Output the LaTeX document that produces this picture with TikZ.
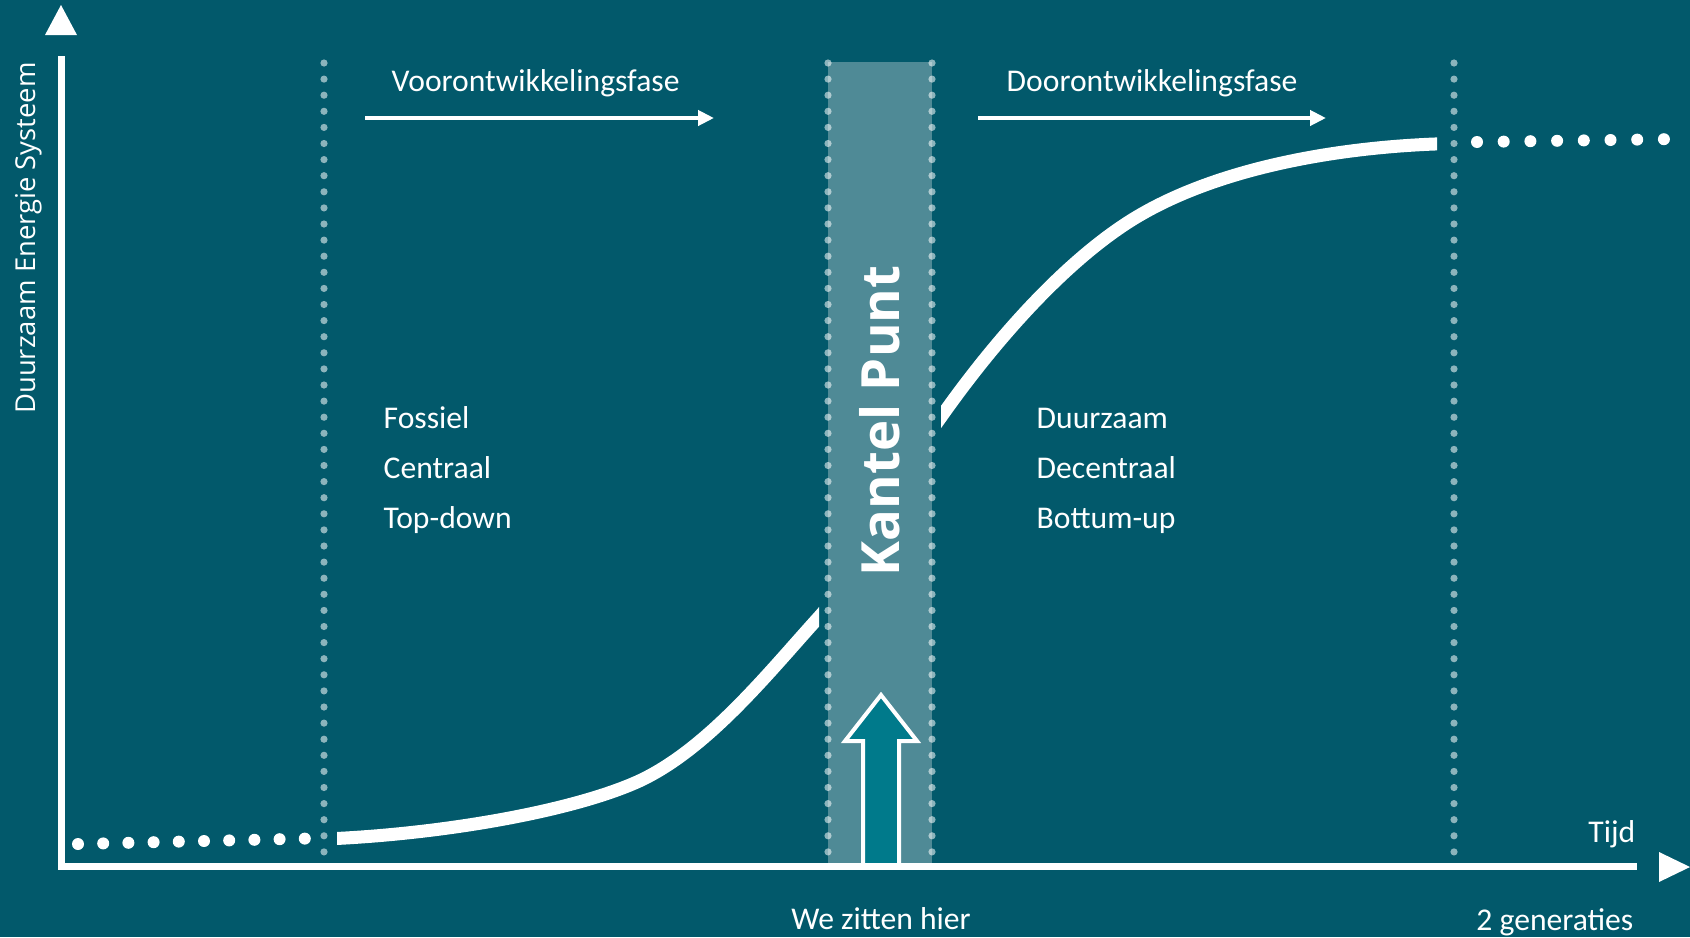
\documentclass[tikz,border=0pt]{standalone}
\usepackage{fontspec}
\setmainfont{Carlito}
\newfontfamily\axisfont{Open Sans}
\usetikzlibrary{arrows.meta}
\definecolor{bgteal}{HTML}{02596B}
\definecolor{bandteal}{HTML}{4F8A96}
\definecolor{arrowteal}{HTML}{007A8B}

\begin{document}
\begin{tikzpicture}[x=0.1mm, y=-0.1mm,
    lbl/.style={text=white, inner sep=0pt, font=\fontsize{9}{11}\selectfont},
    phase/.style={draw=white, line width=0.4mm, -{Triangle[length=1.6mm, width=1.5mm]}},
    stip/.style={fill=white, opacity=0.55}]
    \useasboundingbox (0,0) rectangle (1690,937);
    \fill[bgteal] (0,0) rectangle (1690,937);
    \fill[bandteal] (828,62) rectangle (932,866);
    \foreach \x in {324,828,932,1454}
        \foreach \k in {0,...,49}
            \fill[stip] (\x,63+16.1*\k) circle (0.36mm);
    \foreach \k in {0,...,9}
        \fill[white] (78+25.2*\k,844-0.6*\k) circle (0.6mm);
    \foreach \k in {0,...,7}
        \fill[white] (1477+26.7*\k,142-0.4*\k) circle (0.6mm);
    \begin{scope}
        \clip (337,0) rectangle (819,937) (941,0) rectangle (1437,937);
        \draw[white, line width=1.3mm, line cap=butt] (325,839)
            .. controls (435,834.6) and (567,813) .. (637,782)
            .. controls (707,750.5) and (769,672) .. (819,617)
            .. controls (859,573) and (901,471) .. (941,417)
            .. controls (1001,332) and (1067,262) .. (1127,223)
            .. controls (1207,171) and (1330,146.5) .. (1450,143.5);
    \end{scope}
    \filldraw[fill=arrowteal, draw=white, line width=0.4mm] (881,695) -- (917,741) -- (899,741) -- (899,866) -- (863,866) -- (863,741) -- (845,741) -- cycle;
    \coordinate (ytop) at (61,56);
    \coordinate (xend) at (1637,866.5);
    \draw[white, line width=0.7mm] (ytop) |- (xend);
    \fill[white] (61,5) -- (77,35) -- (45,35) -- cycle;
    \fill[white] (1690,867) -- (1659,852) -- (1659,882) -- cycle;
    \coordinate (voorA) at (365,118);
    \coordinate (voorB) at (714,118);
    \coordinate (doorA) at (978,118);
    \coordinate (doorB) at (1326,118);
    \draw[phase] (voorA) -- (voorB);
    \draw[phase] (doorA) -- (doorB);
    \node[lbl, anchor=base west] (voor) at (391,91) {Voorontwikkelingsfase};
    \node[lbl, anchor=base west] (door) at (1006,91) {Doorontwikkelingsfase};
    \node[lbl, anchor=base west] (fossiel) at (383,428) {Fossiel};
    \node[lbl, anchor=base west] (centraal) at (383,478) {Centraal};
    \node[lbl, anchor=base west] (topdown) at (383,528) {Top-down};
    \node[lbl, anchor=base west] (duurzaam) at (1036,428) {Duurzaam};
    \node[lbl, anchor=base west] (decentraal) at (1036,478) {Decentraal};
    \node[lbl, anchor=base west] (bottumup) at (1036,528) {Bottum-up};
    \node[lbl, anchor=base east] (tijd) at (1636,842) {Tijd};
    \node[lbl, anchor=base] (hier) at (881,929) {We zitten hier};
    \node[lbl, anchor=base east] (generaties) at (1634,930) {2 generaties};
    \node[text=white, inner sep=0pt, rotate=90, anchor=base, font=\axisfont\fontsize{7.8}{9}\selectfont] (yas) at (35,238) {Duurzaam Energie Systeem};
    \node[text=white, inner sep=0pt, rotate=90, font=\axisfont\bfseries\fontsize{15}{18}\selectfont] (kantel) at (880,421) {Kantel Punt};
\end{tikzpicture}
\end{document}
